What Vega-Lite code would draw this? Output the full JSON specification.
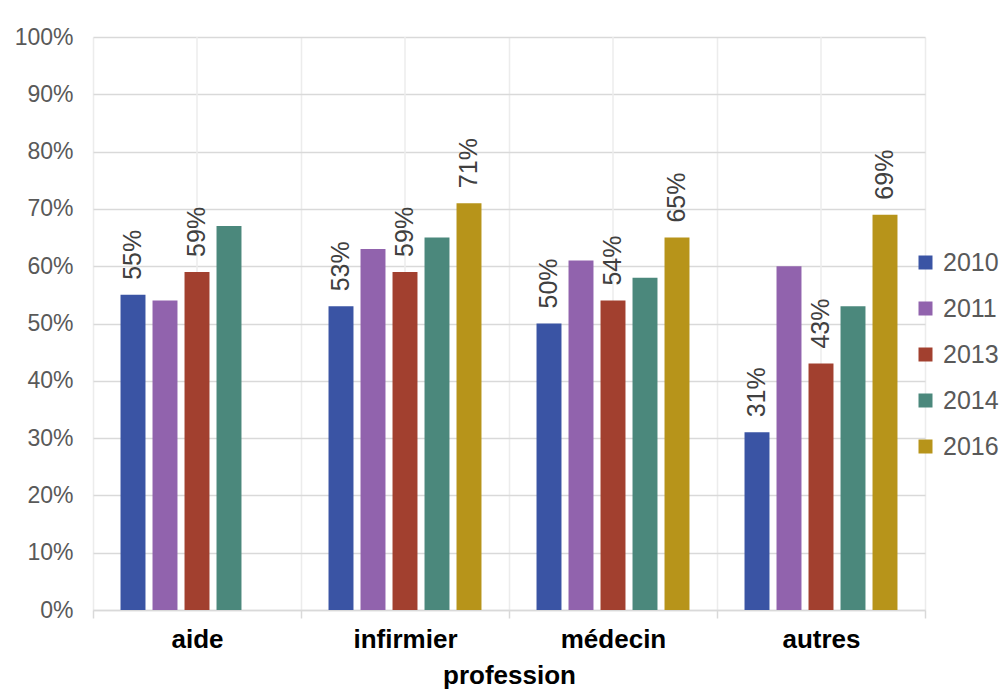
{
  "$schema": "https://vega.github.io/schema/vega-lite/v6.json",
  "width": 832,
  "height": 573,
  "autosize": "none",
  "padding": {"left": 93, "top": 37, "right": 81, "bottom": 81},
  "config": {"font": "Liberation Sans", "view": {"stroke": null}},
  "datasets": {
    "main": [
      {"profession": "aide", "year": "2010", "value": 0.55},
      {"profession": "aide", "year": "2011", "value": 0.54},
      {"profession": "aide", "year": "2013", "value": 0.59},
      {"profession": "aide", "year": "2014", "value": 0.67},
      {"profession": "infirmier", "year": "2010", "value": 0.53},
      {"profession": "infirmier", "year": "2011", "value": 0.63},
      {"profession": "infirmier", "year": "2013", "value": 0.59},
      {"profession": "infirmier", "year": "2014", "value": 0.65},
      {"profession": "infirmier", "year": "2016", "value": 0.71},
      {"profession": "médecin", "year": "2010", "value": 0.50},
      {"profession": "médecin", "year": "2011", "value": 0.61},
      {"profession": "médecin", "year": "2013", "value": 0.54},
      {"profession": "médecin", "year": "2014", "value": 0.58},
      {"profession": "médecin", "year": "2016", "value": 0.65},
      {"profession": "autres", "year": "2010", "value": 0.31},
      {"profession": "autres", "year": "2011", "value": 0.60},
      {"profession": "autres", "year": "2013", "value": 0.43},
      {"profession": "autres", "year": "2014", "value": 0.53},
      {"profession": "autres", "year": "2016", "value": 0.69}
    ],
    "cats": [
      {"profession": "aide"},
      {"profession": "infirmier"},
      {"profession": "médecin"},
      {"profession": "autres"}
    ]
  },
  "layer": [
    {
      "data": {"name": "cats"},
      "mark": {"type": "rule", "color": "#ececec", "strokeWidth": 1.5},
      "encoding": {
        "x": {"field": "profession", "type": "nominal", "sort": ["aide", "infirmier", "médecin", "autres"]}
      }
    },
    {
      "data": {"name": "main"},
      "mark": {"type": "bar"},
      "encoding": {
        "x": {
          "field": "profession", "type": "nominal",
          "sort": ["aide", "infirmier", "médecin", "autres"],
          "scale": {"paddingInner": 0, "paddingOuter": 0},
          "axis": {
            "title": "profession",
            "titleFontSize": 26, "titleFontWeight": "bold", "titleColor": "#000000", "titlePadding": 10,
            "labelAngle": 0, "labelAlign": "center", "labelBaseline": "top", "labelFontSize": 26, "labelFontWeight": "bold", "labelColor": "#000000", "labelPadding": 8,
            "tickBand": "extent", "ticks": true, "tickSize": 8, "tickColor": "#d9d9d9", "tickWidth": 1.5,
            "grid": true, "gridColor": "#ececec", "gridWidth": 1.5,
            "domainColor": "#d9d9d9", "domainWidth": 1.5
          }
        },
        "xOffset": {
          "field": "year", "type": "nominal",
          "scale": {"domain": ["2010", "2011", "2013", "2014", "2016"], "paddingInner": 0.22, "paddingOuter": 0.86}
        },
        "y": {
          "field": "value", "type": "quantitative",
          "scale": {"domain": [0, 1]},
          "axis": {
            "title": null, "format": ".0%",
            "values": [0, 0.1, 0.2, 0.3, 0.4, 0.5, 0.6, 0.7, 0.8, 0.9, 1],
            "labelFontSize": 23, "labelColor": "#595959", "labelPadding": 20,
            "domain": false, "ticks": false,
            "grid": true, "gridColor": "#d9d9d9", "gridWidth": 1.5
          }
        },
        "color": {
          "field": "year", "type": "nominal",
          "scale": {
            "domain": ["2010", "2011", "2013", "2014", "2016"],
            "range": ["#3A54A4", "#9163AD", "#A2402F", "#4B887C", "#B7941A"]
          },
          "legend": {
            "title": null, "orient": "none", "legendX": 820, "legendY": 213,
            "symbolType": "square", "symbolSize": 196, "symbolStrokeWidth": 0,
            "labelFontSize": 25, "labelColor": "#595959", "labelOffset": 5,
            "rowPadding": 20
          }
        }
      }
    },
    {
      "data": {"name": "main"},
      "transform": [{"filter": {"field": "year", "oneOf": ["2010", "2013", "2016"]}}],
      "mark": {"type": "text", "angle": 270, "align": "left", "baseline": "middle", "dx": 15, "fontSize": 25, "color": "#404040"},
      "encoding": {
        "x": {"field": "profession", "type": "nominal", "sort": ["aide", "infirmier", "médecin", "autres"]},
        "xOffset": {"field": "year", "type": "nominal"},
        "y": {"field": "value", "type": "quantitative"},
        "text": {"field": "value", "type": "quantitative", "format": ".0%"}
      }
    }
  ]
}
